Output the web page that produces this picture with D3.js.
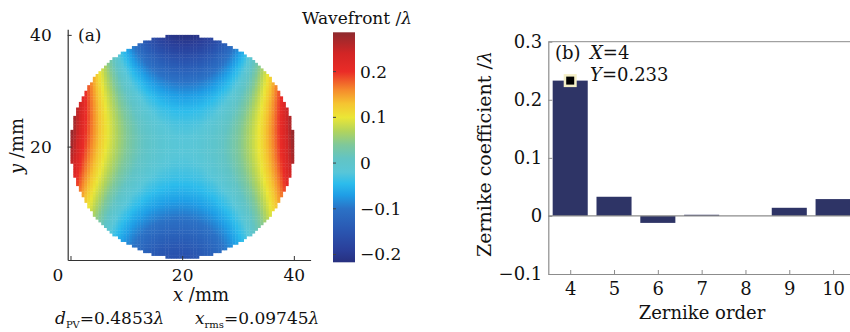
<!DOCTYPE html>
<html>
<head>
<meta charset="utf-8">
<script src="https://cdn.jsdelivr.net/npm/d3@7"></script>
<style>
  html, body { margin: 0; padding: 0; background: #fff; }
  svg { display: block; font-family: "DejaVu Serif", serif; }
  text { font-family: "DejaVu Serif", serif; }
</style>
</head>
<body>
<svg id="chart" width="850" height="332"></svg>
<script>
// ---------------- data ----------------
const zernikeOrders = [4, 5, 6, 7, 8, 9, 10];
const zernikeCoefficients = [0.233, 0.033, -0.012, 0.002, 0.0, 0.014, 0.029];
const barYTicks = [-0.1, 0, 0.1, 0.2, 0.3];
const barYTickLabels = ["\u22120.1", "0", "0.1", "0.2", "0.3"];
const mapTicks = [0, 20, 40];
const colorbarTicks = [-0.2, -0.1, 0, 0.1, 0.2];
const colorbarTickLabels = ["\u22120.2", "\u22120.1", "0", "0.1", "0.2"];
const colorbarRange = [-0.217, 0.286];
const apertureDiameterMm = 40;
const gridStepMm = 0.5;
const markerPoint = { order: 4, value: 0.233 };
const pvText = "0.4853";
const rmsText = "0.09745";

// Zernike basis used to reconstruct the wavefront map from the coefficients
const zernikeBasis = {
  4: (r, t) => r * r * Math.cos(2 * t),
  5: (r, t) => 2 * r * r - 1,
  6: (r, t) => r * r * Math.sin(2 * t),
  7: (r, t) => (3 * r ** 3 - 2 * r) * Math.cos(t),
  8: (r, t) => (3 * r ** 3 - 2 * r) * Math.sin(t),
  9: (r, t) => 6 * r ** 4 - 6 * r * r + 1,
  10: (r, t) => r ** 3 * Math.sin(3 * t)
};

// colour map (style)
const cmapValues = [-0.217, -0.19, -0.15, -0.1, -0.07, -0.045, -0.02, 0.01, 0.04, 0.07, 0.1, 0.13, 0.16, 0.2, 0.24, 0.286];
const cmapColors = ['#27307f', '#2a3f9a', '#2a55b0', '#2b72c6', '#1f9ee6', '#2cbcec', '#58c6d8', '#62c4c4', '#7fc89a', '#b2d45c', '#ebe636', '#f5c431', '#f58a2c', '#ea2c27', '#d22525', '#8e2a2e'];

const svg = d3.select("#chart");
const color = d3.scaleLinear().domain(cmapValues).range(cmapColors).clamp(true);
const FONT = "DejaVu Serif";

// ---------------- left panel: wavefront map ----------------
const xL = d3.scaleLinear().domain([-0.5, 43]).range([67.7, 310.6]);
const yL = d3.scaleLinear().domain([-0.3, 41]).range([260, 29.3]);
const R = apertureDiameterMm / 2;

const cells = [];
for (let gx = 0; gx < apertureDiameterMm; gx += gridStepMm) {
  for (let gy = 0; gy < apertureDiameterMm; gy += gridStepMm) {
    const cx = gx + gridStepMm / 2 - R, cy = gy + gridStepMm / 2 - R;
    const rho = Math.hypot(cx, cy) / R;
    if (rho > 1.0) continue;
    const th = Math.atan2(cy, cx);
    let w = 0;
    zernikeOrders.forEach((o, i) => { w += zernikeCoefficients[i] * zernikeBasis[o](rho, th); });
    cells.push({ x: gx, y: gy, w });
  }
}
const cw = xL(gridStepMm) - xL(0);
const ch = yL(0) - yL(gridStepMm);
svg.append("g").selectAll("rect").data(cells).join("rect")
  .attr("x", d => xL(d.x))
  .attr("y", d => yL(d.y + gridStepMm))
  .attr("width", cw + 0.4)
  .attr("height", ch + 0.4)
  .attr("fill", d => color(d.w));

const axisColor = "#333";
const gxAxis = svg.append("g").attr("transform", "translate(0,260)")
  .call(d3.axisBottom(xL).tickValues(mapTicks).tickSizeInner(-4).tickSizeOuter(0).tickPadding(9).tickFormat(d3.format("d")));
const gyAxis = svg.append("g").attr("transform", "translate(67.7,0)")
  .call(d3.axisLeft(yL).tickValues(mapTicks.filter(v => v > 0)).tickSizeInner(-4).tickSizeOuter(0).tickPadding(16).tickFormat(d3.format("d")));
[gxAxis, gyAxis].forEach(g => {
  g.select(".domain").attr("stroke", axisColor).attr("stroke-width", 1.2);
  g.selectAll(".tick line").attr("stroke", axisColor);
  g.selectAll(".tick text").attr("fill", "#111").style("font-size", "17px").style("font-family", FONT);
});
gxAxis.selectAll(".tick text").filter(d => d === 0).attr("dx", -13);

svg.append("text").attr("x", 201).attr("y", 301).attr("text-anchor", "middle")
  .style("font-size", "18px").attr("fill", "#111")
  .html('<tspan font-style="italic">x</tspan> /mm');
svg.append("text").attr("transform", "translate(23,146) rotate(-90)").attr("text-anchor", "middle")
  .style("font-size", "18px").attr("fill", "#111")
  .html('<tspan font-style="italic">y</tspan> /mm');
svg.append("text").attr("x", 78).attr("y", 41).style("font-size", "17px").attr("fill", "#111").text("(a)");

const stat = svg.append("text").attr("x", 55).attr("y", 324).style("font-size", "17px").attr("fill", "#111");
stat.append("tspan").attr("font-style", "italic").text("d");
stat.append("tspan").style("font-size", "10px").attr("dy", 4).text("PV");
stat.append("tspan").attr("dy", -4).text("=" + pvText);
stat.append("tspan").attr("font-style", "italic").text("\u03bb");
stat.append("tspan").attr("x", 195).attr("font-style", "italic").text("x");
stat.append("tspan").style("font-size", "10px").attr("dy", 4).text("rms");
stat.append("tspan").attr("dy", -4).text("=" + rmsText);
stat.append("tspan").attr("font-style", "italic").text("\u03bb");

// colorbar
const cbX = 333, cbW = 22;
const cbY = d3.scaleLinear().domain(colorbarRange).range([262.3, 32.3]);
const defs = svg.append("defs");
const grad = defs.append("linearGradient").attr("id", "cbgrad").attr("x1", 0).attr("y1", 1).attr("x2", 0).attr("y2", 0);
cmapValues.forEach((v, i) => {
  grad.append("stop").attr("offset", (v - colorbarRange[0]) / (colorbarRange[1] - colorbarRange[0])).attr("stop-color", cmapColors[i]);
});
svg.append("rect").attr("x", cbX).attr("y", cbY(colorbarRange[1])).attr("width", cbW)
  .attr("height", cbY(colorbarRange[0]) - cbY(colorbarRange[1])).attr("fill", "url(#cbgrad)");
const cbAxis = svg.append("g").attr("transform", `translate(${cbX + cbW},0)`)
  .call(d3.axisRight(cbY).tickValues(colorbarTicks).tickSizeInner(0).tickSizeOuter(0).tickPadding(5)
    .tickFormat((d, i) => colorbarTickLabels[i]));
cbAxis.select(".domain").remove();
cbAxis.selectAll(".tick text").attr("fill", "#111").style("font-size", "17px").style("font-family", FONT);
svg.append("g").selectAll("line").data(colorbarTicks).join("line")
  .attr("x1", cbX).attr("x2", cbX + 3).attr("y1", d => cbY(d)).attr("y2", d => cbY(d))
  .attr("stroke", "#444").attr("stroke-width", 1);
svg.append("text").attr("x", 357).attr("y", 24).attr("text-anchor", "middle")
  .style("font-size", "17px").attr("fill", "#111")
  .html('Wavefront /<tspan font-style="italic">\u03bb</tspan>');

// ---------------- right panel: Zernike coefficients ----------------
const xR = d3.scaleLinear().domain([3.5, 10.5]).range([548.3, 855]);
const yR = d3.scaleLinear().domain([-0.1, 0.3]).range([274, 41.7]);
const gray = "#8c8c8c";
const barW = (xR(4.4) - xR(3.6));

svg.append("line").attr("x1", xR(3.5)).attr("x2", xR(10.5)).attr("y1", yR(0.3)).attr("y2", yR(0.3)).attr("stroke", gray);
svg.append("line").attr("x1", xR(10.5)).attr("x2", xR(10.5)).attr("y1", yR(0.3)).attr("y2", yR(-0.1)).attr("stroke", gray);

const bars = zernikeOrders.map((o, i) => ({ o, v: zernikeCoefficients[i] }));
svg.append("g").selectAll("rect").data(bars).join("rect")
  .attr("x", d => xR(d.o) - barW / 2)
  .attr("width", barW)
  .attr("y", d => yR(Math.max(0, d.v)))
  .attr("height", d => Math.abs(yR(d.v) - yR(0)))
  .attr("fill", "#2e3466");

svg.append("line").attr("x1", xR(3.5)).attr("x2", xR(10.5)).attr("y1", yR(0)).attr("y2", yR(0)).attr("stroke", gray).attr("stroke-width", 1.2);

const gxR = svg.append("g").attr("transform", `translate(0,${yR(-0.1)})`)
  .call(d3.axisBottom(xR).tickValues(zernikeOrders).tickSizeInner(-4).tickSizeOuter(0).tickPadding(8).tickFormat(d3.format("d")));
const gyR = svg.append("g").attr("transform", `translate(${xR(3.5)},0)`)
  .call(d3.axisLeft(yR).tickValues(barYTicks).tickSizeInner(-4).tickSizeOuter(0).tickPadding(6)
    .tickFormat((d, i) => barYTickLabels[i]));
[gxR, gyR].forEach(g => {
  g.select(".domain").attr("stroke", gray).attr("stroke-width", 1.2);
  g.selectAll(".tick line").attr("stroke", gray);
  g.selectAll(".tick text").attr("fill", "#111").style("font-size", "18px").style("font-family", FONT);
});

svg.append("text").attr("x", 702).attr("y", 319).attr("text-anchor", "middle")
  .style("font-size", "18px").attr("fill", "#111").text("Zernike order");
svg.append("text").attr("transform", "translate(491,154) rotate(-90)").attr("text-anchor", "middle")
  .style("font-size", "19px").attr("fill", "#111")
  .html('Zernike coefficient /<tspan font-style="italic">\u03bb</tspan>');

svg.append("text").attr("x", 555).attr("y", 59).style("font-size", "18px").attr("fill", "#111").text("(b)");
svg.append("text").attr("x", 590).attr("y", 59).style("font-size", "18px").attr("fill", "#111")
  .html('<tspan font-style="italic">X</tspan>=' + markerPoint.order);
svg.append("text").attr("x", 590).attr("y", 81).style("font-size", "18px").attr("fill", "#111")
  .html('<tspan font-style="italic">Y</tspan>=' + markerPoint.value.toFixed(3));

const mx = xR(markerPoint.order), my = yR(markerPoint.value);
svg.append("rect").attr("x", mx - 6.5).attr("y", my - 6.5).attr("width", 13).attr("height", 13).attr("fill", "#f4efc6");
svg.append("rect").attr("x", mx - 4).attr("y", my - 4).attr("width", 8).attr("height", 8).attr("fill", "#000");
</script>
</body>
</html>
